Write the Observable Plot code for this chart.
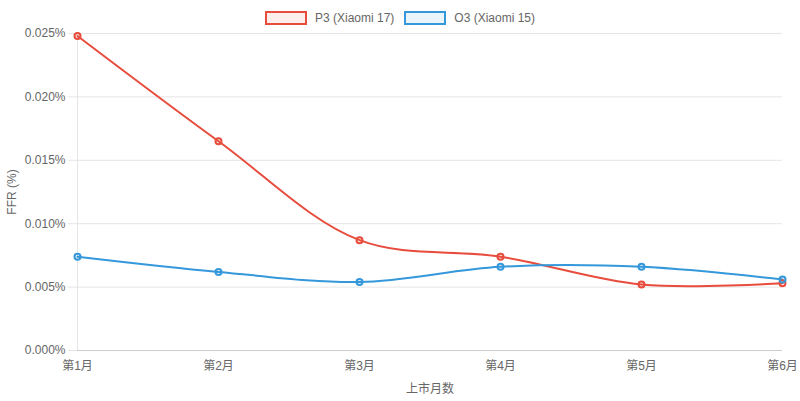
<!DOCTYPE html>
<html><head><meta charset="utf-8">
<script src="https://cdn.jsdelivr.net/npm/d3@7"></script>
<script src="https://cdn.jsdelivr.net/npm/@observablehq/plot@0.6"></script>
<style>
html,body{margin:0;padding:0;background:#fff;}
body{width:800px;height:401px;overflow:hidden;font-family:"Liberation Sans",Arial,"Noto Sans CJK SC",sans-serif;color:#666;}
#legend{height:22px;display:flex;justify-content:center;align-items:flex-start;font-size:12px;color:#666;}
.item{display:flex;align-items:center;margin:12px 5px 0 5px;height:12px;}
.box{width:38px;height:10px;margin-right:8px;border-width:2px;border-style:solid;}
svg{display:block;}
</style></head>
<body>
<div id="legend"></div>
<div id="chart"></div>
<script>
const months = ["第1月","第2月","第3月","第4月","第5月","第6月"];
const seriesNames = ["P3 (Xiaomi 17)","O3 (Xiaomi 15)"];
const p3 = [0.0248,0.0165,0.0087,0.0074,0.0052,0.0053];
const o3 = [0.0074,0.0062,0.0054,0.0066,0.0066,0.0056];
const yTicks = [0,0.005,0.010,0.015,0.020,0.025];
const strokes = ["#e74c3c","#3498db"];
const fills = ["rgba(231,76,60,0.1)","rgba(52,152,219,0.1)"];

const data = [];
[p3,o3].forEach((vals,si)=>vals.forEach((v,i)=>data.push({month:months[i],value:v,series:seriesNames[si]})));

const legend = document.getElementById("legend");
seriesNames.forEach((n,i)=>{
  const it=document.createElement("div");it.className="item";
  const b=document.createElement("div");b.className="box";b.style.borderColor=strokes[i];b.style.background=fills[i];
  const t=document.createElement("span");t.textContent=n;
  it.appendChild(b);it.appendChild(t);legend.appendChild(it);
});

const fmt = d=>d3.format(".3f")(d)+"%";
const chart = Plot.plot({
  width:800,height:379,
  marginTop:11,marginBottom:51,marginLeft:77,marginRight:18,
  style:{fontFamily:'"Liberation Sans",Arial,"Noto Sans CJK SC",sans-serif',fontSize:"12px",color:"#666",background:"#fff"},
  x:{type:"point",domain:months,padding:0},
  y:{domain:[0,0.025]},
  color:{domain:seriesNames,range:strokes},
  marks:[
    Plot.ruleY(yTicks.filter(d=>d>0),{stroke:"#e5e5e5",strokeOpacity:1}),
    Plot.ruleX([months[0]],{stroke:"#e5e5e5",strokeOpacity:1}),
    Plot.ruleY([0],{stroke:"#cccccc",strokeOpacity:1}),
    Plot.axisY({ticks:yTicks,tickFormat:fmt,tickSize:9,tickPadding:3,stroke:"#e5e5e5",strokeOpacity:1,label:"FFR (%)",labelAnchor:"center",labelArrow:"none",labelOffset:70,fill:"#666"}),
    Plot.axisX({tickSize:0,tickPadding:11,label:"上市月数",labelAnchor:"center",labelArrow:"none",labelOffset:42,fill:"#666"}),
    Plot.line(data,{x:"month",y:"value",z:"series",stroke:"series",strokeWidth:2,curve:"catmull-rom"}),
    Plot.dot(data,{x:"month",y:"value",stroke:"series",fill:d=>fills[seriesNames.indexOf(d.series)],r:3,strokeWidth:2})
  ]
});
document.getElementById("chart").appendChild(chart);
</script>
</body></html>
